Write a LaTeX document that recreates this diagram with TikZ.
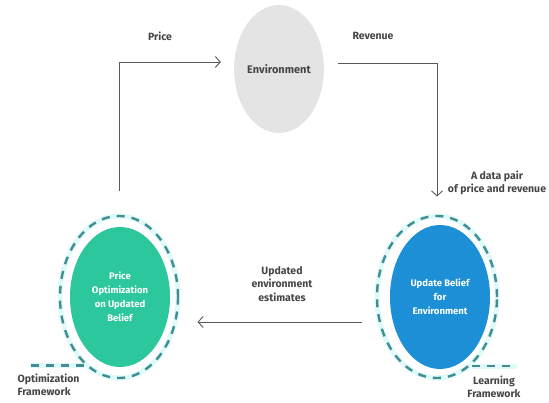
\documentclass[tikz,border=0pt]{standalone}
\usepackage{fontspec}
\setmainfont{Fira Sans}
\usetikzlibrary{shapes.geometric,arrows.meta}
\definecolor{envgray}{HTML}{E4E4E4}
\definecolor{optgreen}{HTML}{2CC79C}
\definecolor{updblue}{HTML}{1C8FD6}
\definecolor{ringdark}{HTML}{3E8E93}
\definecolor{ringlight}{HTML}{E0F9F9}
\definecolor{linegray}{HTML}{5A5A5A}
\definecolor{txtgray}{HTML}{454545}
\begin{document}
\begin{tikzpicture}[x=1pt,y=-1pt,
  blob/.style={ellipse, inner sep=0pt, align=center, text=white, font=\fontsize{9.5}{14}\selectfont\bfseries},
  ringhalo/.style={ellipse, inner sep=0pt, draw=ringlight, line width=5pt},
  ringdash/.style={draw=ringdark, line width=2.4pt, dash pattern=on 8pt off 7pt},
  tailhalo/.style={draw=ringlight, line width=5pt},
  arr/.style={draw=linegray, line width=0.9pt, -{Straight Barb[length=5pt,width=11pt,line width=0.9pt]}},
  lbl/.style={text=txtgray, align=center, font=\fontsize{10.5}{13.5}\selectfont\bfseries}
]
\useasboundingbox (0,0) rectangle (549,403);

% environment
\node[ellipse, inner sep=0pt, fill=envgray, minimum width=88pt, minimum height=128pt,
      text=txtgray, font=\fontsize{11}{13}\selectfont\bfseries] (env) at (279,69) {Environment};

% rings
\node[ringhalo, minimum width=118pt, minimum height=162pt] (optring) at (119,297) {};
\node[ringhalo, minimum width=120pt, minimum height=162pt] (updring) at (437,297) {};
\coordinate (optend) at (30,362);
\coordinate (updend) at (517,362);
\draw[tailhalo] (optring.243) -- (optring.243 -| optend);
\draw[tailhalo] (updring.297) -- (updring.297 -| updend);
\draw[ringdash] (optring.243) -- (optring.243 -| optend);
\draw[ringdash] (updring.297) -- (updring.297 -| updend);
\draw[ringdash] (optring.center) ellipse [x radius=59pt, y radius=81pt];
\draw[ringdash] (updring.center) ellipse [x radius=60pt, y radius=81pt];

% blobs
\node[blob, fill=optgreen, minimum width=100pt, minimum height=140pt] (opt) at (120,297)
  {Price\\Optimization\\on Updated\\Belief};
\node[blob, fill=updblue, minimum width=100pt, minimum height=144pt] (upd) at (440,297)
  {Update Belief\\for\\Environment};

% connectors
\draw[arr, shorten <=22pt, shorten >=13pt] (optring.north) |- ([yshift=7pt]env.west);
\draw[arr, shorten <=14pt, shorten >=17pt] ([yshift=6pt]env.east) -| (updring.north);
\draw[arr] ([xshift=-13pt,yshift=-25pt]updring.west) -- ([xshift=17pt,yshift=-25pt]optring.east);

% labels
\node[lbl] (lprice) at (160,36) {Price};
\node[lbl] (lrev) at (373,36) {Revenue};
\node[lbl] (lpair) at (497,183) {A data pair\\of price and revenue};
\node[lbl] (lupd) at (282,284) {Updated\\environment\\estimates};
\node[lbl, align=left, anchor=west] (lopt) at (14,385) {Optimization\\Framework};
\node[lbl] (llearn) at (494,387) {Learning\\Framework};
\end{tikzpicture}
\end{document}
